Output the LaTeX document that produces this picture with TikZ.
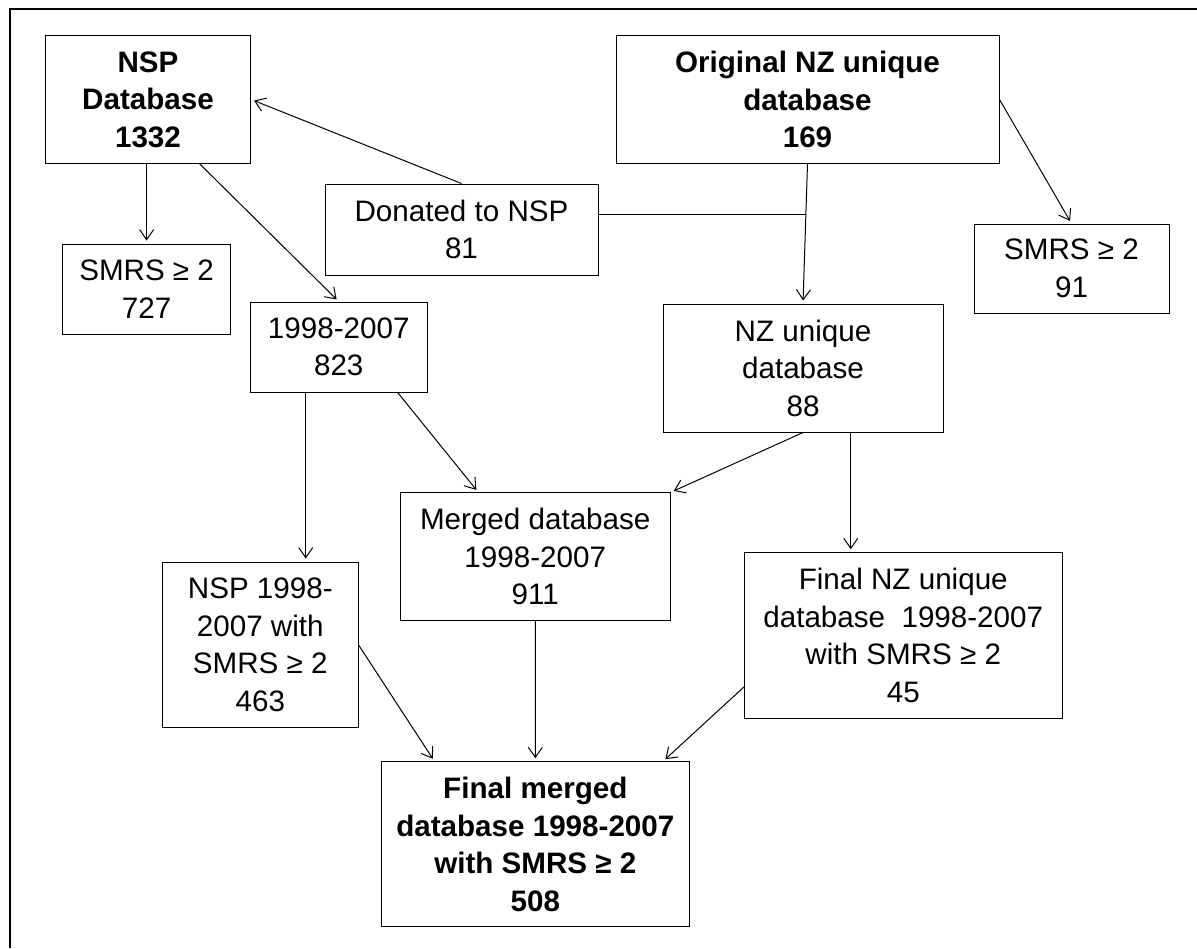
\documentclass[tikz,border=0pt]{standalone}
\usepackage{fontspec}
\setmainfont{Liberation Sans}
\usetikzlibrary{arrows.meta,calc}
\tikzset{
  box/.style={draw, line width=1pt, inner sep=0pt, align=center,
    font=\fontsize{29.6}{37.5}\selectfont},
  bbox/.style={box, font=\fontsize{29.6}{37.5}\selectfont\bfseries},
  arr/.style={line width=1pt, -{Straight Barb[length=10pt,width=14pt,line width=1pt]}, shorten >=3pt},
  plain/.style={line width=1pt},
  frame/.style={line width=2pt}
}
\begin{document}
\begin{tikzpicture}[x=1pt,y=-1pt]
\useasboundingbox (0,0) rectangle (1197,948);
\draw[frame] (10,948) -- (10,9) -- (1197,9);

\node[bbox, minimum width=205.5pt, minimum height=127.6pt] (nsp) at (148,99.5) {NSP\\Database\\1332};
\node[bbox, minimum width=383pt, minimum height=127.6pt] (orig) at (807.5,99.5) {Original NZ unique\\database\\169};
\node[box, minimum width=273pt, minimum height=91pt] (don) at (461.5,229.5) {Donated to NSP\\81};
\node[box, minimum width=168.4pt, minimum height=90pt] (smrsA) at (146.6,289) {SMRS ≥ 2\\727};
\node[box, minimum width=195pt, minimum height=89pt] (smrsB) at (1071.5,268.5) {SMRS ≥ 2\\91};
\node[box, minimum width=177.5pt, minimum height=90pt] (yrs) at (338.75,347) {1998-2007\\823};
\node[box, minimum width=280pt, minimum height=128pt] (nzu) at (803,368) {NZ unique\\database\\88};
\node[box, minimum width=270.5pt, minimum height=128pt] (mrg) at (535.25,556.7) {Merged database\\1998-2007\\911};
\node[box, minimum width=195.4pt, minimum height=165.7pt] (nsp98) at (260.3,644.85) {NSP 1998-\\2007 with\\SMRS ≥ 2\\463};
\node[box, minimum width=317.5pt, minimum height=165.3pt] (fnz) at (903.25,635.35) {Final NZ unique\\database\ \ 1998-2007\\with SMRS ≥ 2\\45};
\node[bbox, minimum width=307.7pt, minimum height=165pt] (fin) at (535.35,844.2) {Final merged\\database 1998-2007\\with SMRS ≥ 2\\508};

% connectors
\draw[arr] (smrsA.north |- nsp.south) -- (smrsA.north);
\draw[arr] ($(nsp.south west)!0.75!(nsp.south east)$) -- (yrs.north);
\draw[arr] (don.north) -- (nsp.east);
\draw[arr] (orig.south) -- (nzu.north);
\coordinate (j) at ($(orig.south)!0.36!(nzu.north)$);
\draw[plain] (don.east |- j) -- (j);
\draw[arr] (orig.east) -- (smrsB.north);
\coordinate (ya) at ($(yrs.south west)!0.315!(yrs.south east)$);
\draw[arr] (ya) -- (ya |- nsp98.north);
\draw[arr] ($(yrs.south west)!0.83!(yrs.south east)$) -- ($(mrg.north west)!0.29!(mrg.north east)$);
\draw[arr] (nzu.south) -- (mrg.north east);
\coordinate (na) at ($(nzu.south west)!0.67!(nzu.south east)$);
\draw[arr] (na) -- (na |- fnz.north);
\draw[arr] (nsp98.east) -- ($(fin.north west)!0.173!(fin.north east)$);
\draw[arr] (mrg.south) -- (fin.north);
\draw[arr] ($(fnz.north west)!0.81!(fnz.south west)$) -- ($(fin.north west)!0.914!(fin.north east)$);
\end{tikzpicture}
\end{document}
